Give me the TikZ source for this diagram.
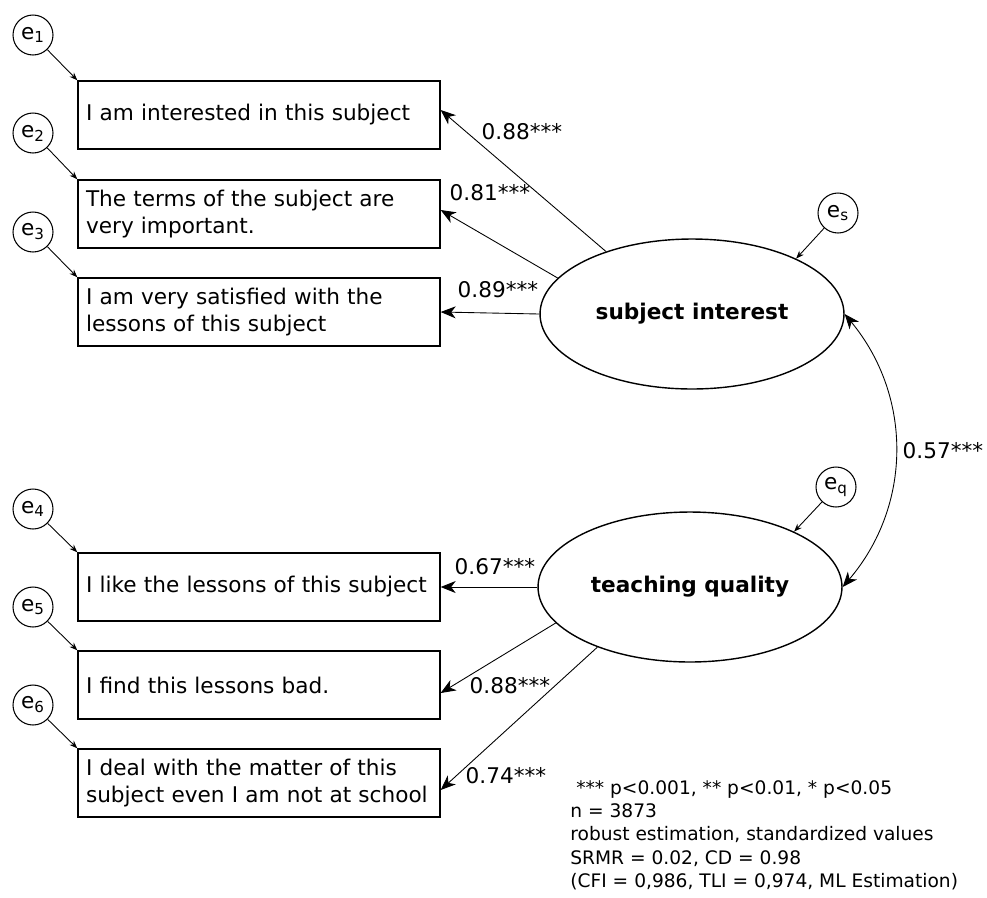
\documentclass[tikz,border=0pt]{standalone}
\usepackage{fontspec}
\setmainfont{DejaVu Sans}
\usetikzlibrary{arrows.meta,shapes.geometric}

\begin{document}
\begin{tikzpicture}[x=0.02cm, y=-0.02cm,
  font=\fontsize{12.3}{15.3}\selectfont,
  item/.style={draw, line width=0.8pt, align=left, text width=6.92cm, inner xsep=0.16cm, minimum height=1.36cm},
  err/.style={draw, circle, line width=0.6pt, minimum size=0.8cm, inner sep=0pt},
  latent/.style={draw, ellipse, line width=0.8pt, minimum width=6.08cm, minimum height=3.0cm, font=\fontsize{12.3}{15.3}\selectfont\bfseries},
  load/.style={-{Stealth[length=3mm, width=2.4mm, inset=0.9mm]}, line width=0.5pt},
  res/.style={-{Stealth[length=1.6mm, width=1.2mm]}, line width=0.5pt},
  coef/.style={inner sep=0pt},
  note/.style={align=left, inner sep=0pt, font=\fontsize{10.6}{13.3}\selectfont}]
\useasboundingbox (0,0) rectangle (987,897);

% observed items
\node[item] (i1) at (259,115) {I am interested in this subject};
\node[item] (i2) at (259,214) {The terms of the subject are\\very important.};
\node[item] (i3) at (259,312) {I am very satisfied with the\\lessons of this subject};
\node[item] (i4) at (259,587) {I like the lessons of this subject};
\node[item] (i5) at (259,685) {I find this lessons bad.};
\node[item] (i6) at (259,783) {I deal with the matter of this\\subject even I am not at school};

% error terms
\node[err] (e1) at (33,35) {e\textsubscript{1}};
\node[err] (e2) at (33,133) {e\textsubscript{2}};
\node[err] (e3) at (33,232) {e\textsubscript{3}};
\node[err] (e4) at (33,509) {e\textsubscript{4}};
\node[err] (e5) at (33,607) {e\textsubscript{5}};
\node[err] (e6) at (33,705) {e\textsubscript{6}};

% latent factors
\node[latent] (si) at (692,314) {subject interest};
\node[latent] (tq) at (690,587) {teaching quality};
\node[err] (es) at (838,213) {e\textsubscript{s}};
\node[err] (eq) at (836,487) {e\textsubscript{q}};

\draw[res] (e1) -- (i1.north west);
\draw[res] (e2) -- (i2.north west);
\draw[res] (e3) -- (i3.north west);
\draw[res] (e4) -- (i4.north west);
\draw[res] (e5) -- (i5.north west);
\draw[res] (e6) -- (i6.north west);
\draw[res] (es) -- (si.28);
\draw[res] (eq) -- (tq.28);

% loadings
\draw[load] (si.144) -- ([yshift=0.1cm]i1.east);
\draw[load] (si.165) -- ([yshift=0.08cm]i2.east);
\draw[load] (si.west) -- (i3.east);
\draw[load] (tq.west) -- (i4.east);
\draw[load] (tq.195) -- ([yshift=-0.16cm]i5.east);
\draw[load] (tq.213) -- ([yshift=-0.14cm]i6.east);
\draw[{Stealth[length=3mm, width=2.4mm, inset=0.9mm]}-{Stealth[length=3mm, width=2.4mm, inset=0.9mm]}, line width=0.5pt]
  (si.east) to[bend left=40] node[coef, right=4pt] (lc) {0.57***} (tq.east);

\node[coef] (l1) at (522,132) {0.88***};
\node[coef] (l2) at (490,193) {0.81***};
\node[coef] (l3) at (498,290) {0.89***};
\node[coef] (l4) at (495,567) {0.67***};
\node[coef] (l5) at (510,686) {0.88***};
\node[coef] (l6) at (506,776) {0.74***};

% fit notes
\node[note, anchor=north west] (nt) at (570,780) {\ *** p<0.001, ** p<0.01, * p<0.05\\n = 3873\\robust estimation, standardized values\\SRMR = 0.02, CD = 0.98\\(CFI = 0,986, TLI = 0,974, ML Estimation)};
\end{tikzpicture}
\end{document}
